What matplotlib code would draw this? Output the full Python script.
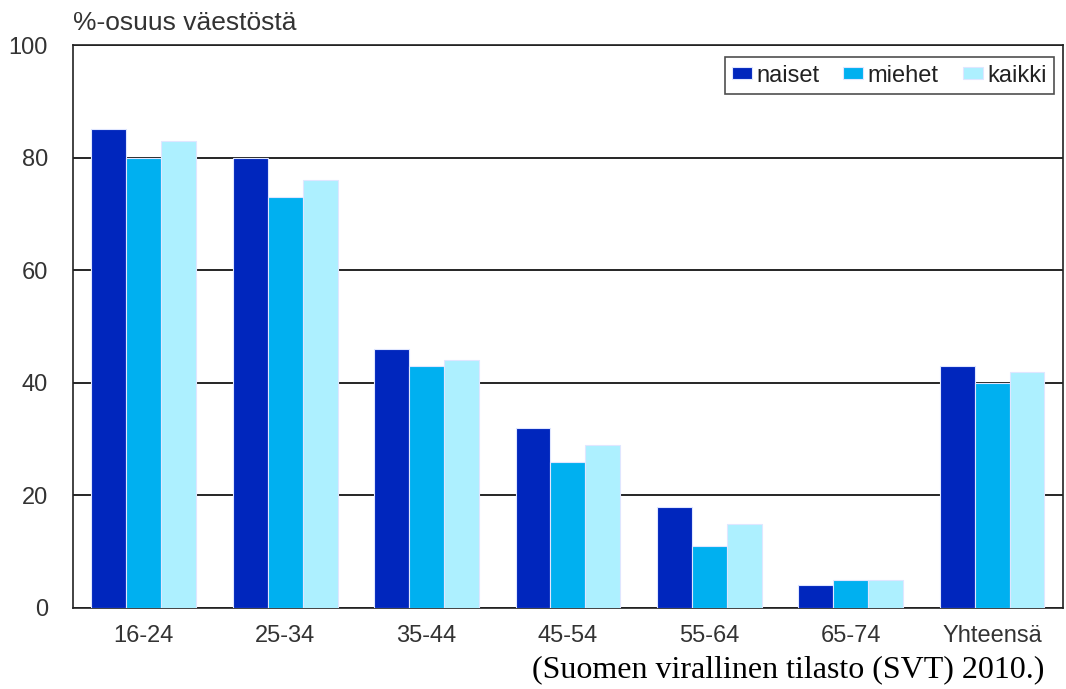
import matplotlib
matplotlib.use("Agg")
import matplotlib.pyplot as plt
import numpy as np

categories = ["16-24", "25-34", "35-44", "45-54", "55-64", "65-74", "Yhteensä"]
naiset = [85, 80, 46, 32, 18, 4, 43]
miehet = [80, 73, 43, 26, 11, 5, 40]
kaikki = [83, 76, 44, 29, 15, 5, 42]
series_names = ["naiset", "miehet", "kaikki"]
colors = ["#0026BD", "#00B0F0", "#ADF0FF"]
yticks = [0, 20, 40, 60, 80, 100]

plt.rcParams['font.family'] = ['Liberation Sans', 'DejaVu Sans']

fig = plt.figure(figsize=(10.66, 6.89), dpi=100)
ax = fig.add_axes([0.0685, 0.1176, 0.9285, 0.8170])

x = np.arange(len(categories))
w = 0.247
for i, (vals, name, c) in enumerate(zip([naiset, miehet, kaikki], series_names, colors)):
    ax.bar(x + (i - 1) * w, vals, width=w, color=c, edgecolor="#dfe6ff",
           linewidth=0.8, label=name, zorder=3)

ax.set_xlim(-0.5, len(categories) - 0.5)
ax.set_ylim(0, 100)
ax.set_yticks(yticks)
ax.set_xticks(x)
ax.set_xticklabels(categories)
ax.tick_params(axis='both', length=0, labelsize=17, colors="#333333")
ax.tick_params(axis='x', pad=12)
ax.tick_params(axis='y', pad=18)
ax.yaxis.grid(True, color="black", linewidth=1.2, zorder=1)
ax.set_axisbelow(True)
for s in ax.spines.values():
    s.set_linewidth(1.2)
    s.set_color("#222222")

fig.text(0.0685, 0.966, "%-osuus väestöstä", fontsize=19, color="#333333",
         ha="left", va="center")

leg = ax.legend(loc="upper right", bbox_to_anchor=(0.991, 0.978), ncol=3,
                fontsize=17, frameon=True, fancybox=False, edgecolor="#222222",
                handlelength=0.85, handleheight=0.45, handletextpad=0.2,
                columnspacing=1.0, borderpad=0.3, borderaxespad=0)
leg.get_frame().set_linewidth(1.2)
for t in leg.get_texts():
    t.set_color("#222222")

fig.text(0.98, 0.028, "(Suomen virallinen tilasto (SVT) 2010.)", fontsize=23,
         family=["Liberation Serif", "DejaVu Serif"], ha="right", va="center",
         color="black")

fig.savefig("out.png", dpi=100)
